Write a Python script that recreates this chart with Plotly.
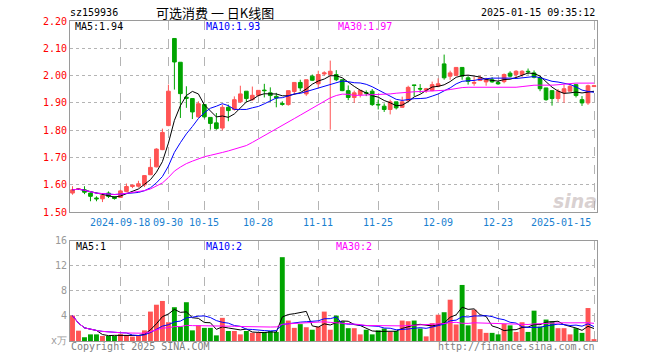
import plotly.graph_objects as go
import pandas as pd

dates = [
    "2024-09-04", "2024-09-05", "2024-09-06", "2024-09-09", "2024-09-10", "2024-09-11", "2024-09-12", "2024-09-13",
    "2024-09-18", "2024-09-19", "2024-09-20", "2024-09-23", "2024-09-24", "2024-09-25", "2024-09-26", "2024-09-27",
    "2024-09-30", "2024-10-08", "2024-10-09", "2024-10-10", "2024-10-11", "2024-10-14", "2024-10-15", "2024-10-16",
    "2024-10-17", "2024-10-18", "2024-10-21", "2024-10-22", "2024-10-23", "2024-10-24", "2024-10-25", "2024-10-28",
    "2024-10-29", "2024-10-30", "2024-10-31", "2024-11-01", "2024-11-04", "2024-11-05", "2024-11-06", "2024-11-07",
    "2024-11-08", "2024-11-11", "2024-11-12", "2024-11-13", "2024-11-14", "2024-11-15", "2024-11-18", "2024-11-19",
    "2024-11-20", "2024-11-21", "2024-11-22", "2024-11-25", "2024-11-26", "2024-11-27", "2024-11-28", "2024-11-29",
    "2024-12-02", "2024-12-03", "2024-12-04", "2024-12-05", "2024-12-06", "2024-12-09", "2024-12-10", "2024-12-11",
    "2024-12-12", "2024-12-13", "2024-12-16", "2024-12-17", "2024-12-18", "2024-12-19", "2024-12-20", "2024-12-23",
    "2024-12-24", "2024-12-25", "2024-12-26", "2024-12-27", "2024-12-30", "2024-12-31", "2025-01-02", "2025-01-03",
    "2025-01-06", "2025-01-07", "2025-01-08", "2025-01-09", "2025-01-10", "2025-01-13", "2025-01-14", "2025-01-15",
]

opens = [
    1.570, 1.584, 1.582, 1.570, 1.552, 1.549, 1.570, 1.556, 1.554, 1.576, 1.594, 1.595, 1.600, 1.637, 1.666, 1.729,
    1.817, 2.136, 2.049, 1.921, 1.916, 1.849, 1.894, 1.847, 1.827, 1.808, 1.884, 1.876, 1.904, 1.943, 1.912, 1.928,
    1.947, 1.937, 1.924, 1.898, 1.894, 1.942, 1.975, 1.933, 1.998, 1.970, 2.006, 2.004, 2.004, 1.985, 1.945, 1.920,
    1.930, 1.938, 1.943, 1.895, 1.888, 1.876, 1.904, 1.884, 1.908, 1.966, 1.953, 1.946, 1.945, 1.961, 2.043, 1.998,
    2.001, 2.030, 1.992, 1.972, 1.982, 1.977, 1.985, 1.975, 1.978, 2.009, 2.004, 2.004, 2.016, 2.010, 1.992, 1.955,
    1.945, 1.916, 1.937, 1.943, 1.967, 1.912, 1.900, 1.960,
]
highs = [
    1.595, 1.588, 1.595, 1.572, 1.558, 1.570, 1.576, 1.558, 1.582, 1.605, 1.601, 1.615, 1.636, 1.696, 1.734, 1.806,
    1.967, 2.136, 2.049, 1.961, 1.916, 1.906, 1.894, 1.847, 1.863, 1.894, 1.894, 1.924, 1.963, 1.943, 1.960, 1.946,
    1.970, 1.957, 1.937, 1.906, 1.945, 1.975, 1.985, 1.985, 2.004, 2.018, 2.016, 2.055, 2.020, 1.985, 1.964, 1.945,
    1.946, 1.946, 1.951, 1.912, 1.898, 1.912, 1.904, 1.923, 1.963, 1.966, 1.969, 1.955, 1.978, 1.990, 2.077, 2.018,
    2.030, 2.030, 1.998, 1.996, 2.000, 1.992, 1.994, 1.980, 2.008, 2.016, 2.020, 2.020, 2.026, 2.019, 1.998, 1.955,
    1.945, 1.951, 1.967, 1.967, 1.967, 1.925, 1.967, 1.966,
]
lows = [
    1.564, 1.582, 1.566, 1.540, 1.540, 1.537, 1.552, 1.546, 1.553, 1.573, 1.588, 1.590, 1.592, 1.636, 1.664, 1.727,
    1.815, 1.949, 1.845, 1.882, 1.841, 1.845, 1.843, 1.802, 1.802, 1.800, 1.833, 1.872, 1.900, 1.904, 1.908, 1.924,
    1.920, 1.904, 1.884, 1.890, 1.890, 1.930, 1.943, 1.926, 1.980, 1.953, 2.000, 1.802, 1.980, 1.943, 1.910, 1.900,
    1.920, 1.925, 1.889, 1.876, 1.867, 1.858, 1.876, 1.882, 1.906, 1.925, 1.937, 1.937, 1.943, 1.957, 1.985, 1.985,
    1.998, 1.985, 1.967, 1.963, 1.980, 1.963, 1.974, 1.966, 1.972, 1.994, 1.990, 1.994, 2.004, 1.990, 1.943, 1.908,
    1.890, 1.904, 1.900, 1.943, 1.920, 1.889, 1.893, 1.958,
]
closes = [
    1.582, 1.586, 1.573, 1.558, 1.549, 1.561, 1.558, 1.550, 1.578, 1.594, 1.599, 1.604, 1.634, 1.664, 1.731, 1.792,
    1.943, 2.050, 1.934, 1.917, 1.867, 1.897, 1.849, 1.825, 1.806, 1.884, 1.872, 1.912, 1.933, 1.916, 1.928, 1.946,
    1.945, 1.927, 1.918, 1.895, 1.945, 1.975, 1.955, 1.985, 1.983, 2.004, 2.010, 2.016, 1.985, 1.945, 1.920, 1.937,
    1.946, 1.936, 1.894, 1.893, 1.876, 1.904, 1.882, 1.904, 1.957, 1.964, 1.951, 1.952, 1.967, 1.970, 1.992, 2.010,
    2.030, 1.998, 1.979, 1.975, 1.992, 1.985, 1.977, 1.970, 2.004, 1.998, 2.016, 2.016, 2.014, 1.994, 1.952, 1.912,
    1.916, 1.943, 1.952, 1.961, 1.927, 1.900, 1.963, 1.963,
]
volumes = [
    4.06, 1.65, 0.60, 1.06, 1.06, 0.80, 0.80, 0.80, 1.10, 0.95, 0.70, 0.85, 1.70, 4.70, 5.80, 6.40,
    3.00, 5.40, 2.30, 6.20, 1.70, 2.50, 2.10, 2.10, 0.90, 3.70, 1.60, 1.60, 1.06, 1.60, 1.30, 1.30,
    1.45, 1.60, 1.45, 13.40, 3.27, 2.10, 2.70, 2.20, 1.80, 2.30, 4.70, 1.80, 4.06, 3.16, 2.05, 2.05,
    1.06, 1.80, 1.06, 1.70, 2.00, 1.45, 1.60, 3.27, 3.16, 3.27, 2.00, 0.74, 2.85, 4.20, 4.60, 6.60,
    2.64, 8.96, 2.50, 5.00, 1.90, 1.30, 1.30, 1.06, 2.74, 2.50, 1.45, 3.00, 1.45, 4.85, 2.30, 3.43,
    3.16, 2.05, 2.05, 1.06, 2.05, 1.30, 5.27, 0.30,
]

label_dates = ["2024-09-18", "2024-09-30", "2024-10-15", "2024-10-28", "2024-11-11",
               "2024-11-25", "2024-12-09", "2024-12-23", "2025-01-15"]
label_texts = ["2024-09-18", "09-30", "10-15", "10-28", "11-11", "11-25", "12-09", "12-23", "2025-01-15"]
price_ticks = [1.50, 1.60, 1.70, 1.80, 1.90, 2.00, 2.10, 2.20]
vol_ticks = [0, 4, 8, 12, 16]
vol_ticktext = ["x万", "4", "8", "12", "16"]

RED = "#ff5454"
GREEN = "#00a400"
GRID = "#b4b4b4"
BORDER = "#9a9a9a"
MONO = "DejaVu Sans Mono"

c = pd.Series(closes)
v = pd.Series(volumes)
ma = {n: c.rolling(n, min_periods=1).mean() for n in (5, 10, 30)}
vma = {n: v.rolling(n, min_periods=1).mean() for n in (5, 10, 30)}
ma_colors = {5: "#000000", 10: "#0000ff", 30: "#ff00ff"}
vol_colors = [RED if cl >= op else GREEN for op, cl in zip(opens, closes)]

# pixel geometry
L, R, T, B = 70, 597.5, 21, 340.7
W, H = 660, 360
def px(xp):
    return (xp - L) / (R - L)
def py(yp):
    return (B - yp) / (B - T)

fig = go.Figure()
fig.add_trace(go.Candlestick(
    x=dates, open=opens, high=highs, low=lows, close=closes,
    increasing=dict(line=dict(color=RED, width=1), fillcolor=RED),
    decreasing=dict(line=dict(color=GREEN, width=1), fillcolor=GREEN),
    whiskerwidth=0, xaxis="x", yaxis="y", showlegend=False, hoverinfo="skip",
))
for n in (5, 10, 30):
    fig.add_trace(go.Scatter(x=dates, y=ma[n], mode="lines", line=dict(color=ma_colors[n], width=1),
                             xaxis="x", yaxis="y", showlegend=False, hoverinfo="skip"))
fig.add_trace(go.Bar(x=dates, y=volumes, marker=dict(color=vol_colors, line=dict(width=0)), width=0.82,
                     xaxis="x2", yaxis="y2", showlegend=False, hoverinfo="skip"))
for n in (5, 10, 30):
    fig.add_trace(go.Scatter(x=dates, y=vma[n], mode="lines", line=dict(color=ma_colors[n], width=1),
                             xaxis="x2", yaxis="y2", showlegend=False, hoverinfo="skip"))

xrange = [-0.417, 87.5]
common_x = dict(type="category", categoryorder="array", categoryarray=dates, range=xrange,
                tickvals=label_dates, showticklabels=False, ticks="",
                showgrid=True, gridcolor=GRID, griddash="dash", gridwidth=1,
                showline=True, mirror=True, linecolor=BORDER, linewidth=1, zeroline=False,
                fixedrange=True)
dom_price = [py(212), 1.0]
dom_vol = [0.0, py(240.7)]

fig.update_layout(
    width=W, height=H,
    margin=dict(l=L, r=W - R, t=T, b=H - B, pad=0),
    paper_bgcolor="white", plot_bgcolor="white",
    showlegend=False,
    boxgap=0.12,
    xaxis=dict(**common_x, anchor="y", domain=[0, 1], rangeslider=dict(visible=False)),
    xaxis2=dict(**common_x, anchor="y2", domain=[0, 1]),
    yaxis=dict(domain=dom_price, range=[1.50, 2.20], tickvals=price_ticks,
               ticktext=["%.2f" % t for t in price_ticks], ticks="",
               tickfont=dict(family=MONO, size=10, color="#ff0000"),
               showgrid=True, gridcolor=GRID, griddash="dot", gridwidth=1,
               showline=True, mirror=True, linecolor=BORDER, linewidth=1, zeroline=False),
    yaxis2=dict(domain=dom_vol, range=[0, 16], tickvals=vol_ticks, ticktext=vol_ticktext, ticks="",
                tickfont=dict(family=MONO, size=10, color="#999999"),
                showgrid=True, gridcolor=GRID, griddash="dot", gridwidth=1,
                showline=True, mirror=True, linecolor=BORDER, linewidth=1, zeroline=False),
)

ann = []
def text(xp, yp, s, color="#000000", size=10, family=MONO, anchor="left", **kw):
    ann.append(dict(x=px(xp), y=py(yp), xref="paper", yref="paper", text=s, showarrow=False,
                    xanchor=anchor, yanchor="middle", font=dict(family=family, size=size, color=color), **kw))

text(68, 13, "sz159936")
text(215, 13, "可选消费 一 日K线图", size=13, family="Noto Sans CJK SC", anchor="center")
text(598, 13, "2025-01-15 09:35:12", anchor="right")
text(73, 26.5, "MA5:1.94")
text(204, 26.5, "MA10:1.93", color="#0000ff")
text(336, 26.5, "MA30:1.97", color="#ff00ff")
text(74, 246.5, "MA5:1")
text(204, 246.5, "MA10:2", color="#0000ff")
text(334, 246.5, "MA30:2", color="#ff00ff")
text(69, 346.5, "Copyright 2025 SINA.COM", color="#808080")
text(598, 346.5, "http://finance.sina.com.cn", color="#808080", anchor="right")
ann.append(dict(x=px(575), y=py(201), xref="paper", yref="paper", text="<b>sina</b>", showarrow=False,
                xanchor="center", yanchor="middle",
                font=dict(family="DejaVu Sans", size=19, color="rgba(185,170,170,0.55)", style="italic")))

for d, s in zip(label_dates, label_texts):
    last = d == label_dates[-1]
    ann.append(dict(x=d, y=py(222), xref="x", yref="paper", text=s, showarrow=False,
                    xanchor="right" if last else "center", xshift=-1 if last else 0, yanchor="middle",
                    font=dict(family=MONO, size=10, color="#1a7fd0")))
fig.update_layout(annotations=ann)

fig.write_html("out.html", config={"displayModeBar": False},
               post_script="document.body.style.margin='0';document.body.style.padding='0';")
